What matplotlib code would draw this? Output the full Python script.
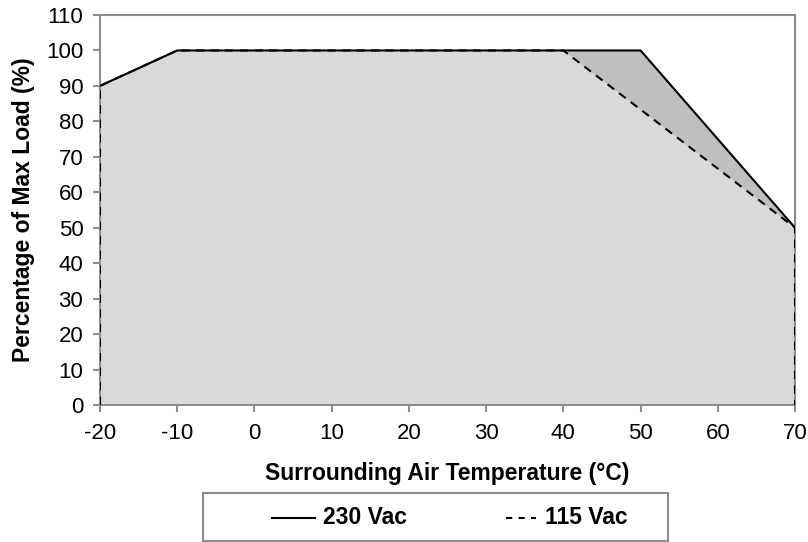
import matplotlib.pyplot as plt
from matplotlib.lines import Line2D
from matplotlib.patches import Rectangle

plt.rcParams['font.family'] = ['Liberation Sans', 'DejaVu Sans']
plt.rcParams['axes.unicode_minus'] = False

# derating curves
temp_230 = [-20, -20, -10, 50, 70, 70]
load_230 = [0, 90, 100, 100, 50, 0]
temp_115 = [-20, -20, -10, 40, 70, 70]
load_115 = [0, 90, 100, 100, 50, 0]
series_names = ['230 Vac', '115 Vac']

xticks = list(range(-20, 71, 10))
yticks = list(range(0, 111, 10))

W, H = 808, 542
fx = lambda px: px / W
fy = lambda py: 1 - py / H

fig = plt.figure(figsize=(W / 100, H / 100), dpi=100)
ax = fig.add_axes([fx(100), fy(405), 695 / W, 390 / H])

# fills: darker band between the curves, light gray under 115 Vac
ax.fill(temp_230, load_230, color='#bfbfbf', lw=0, zorder=1)
ax.fill(temp_115, load_115, color='#d9d9d9', lw=0, zorder=2)

dash = (0, (4, 3))
ax.plot(temp_230[1:-1], load_230[1:-1], color='black', lw=1.5, zorder=3)
ax.plot(temp_115, load_115, color='black', lw=1.5, ls=dash, zorder=4)

ax.set_xlim(-20, 70)
ax.set_ylim(0, 110)
ax.set_xticks(xticks)
ax.set_yticks(yticks)
ax.tick_params(direction='out', length=5, width=1.5, color='#8c8c8c', labelsize=16)
ax.tick_params(axis='x', pad=8)
ax.tick_params(axis='y', pad=7)
for s in ax.spines.values():
    s.set_color('#8c8c8c')
    s.set_linewidth(1.5)

ax.set_xlabel('Surrounding Air Temperature (°C)', fontsize=16.5, fontweight='bold', labelpad=13)
ax.set_ylabel('Percentage of Max Load (%)', fontsize=16.5, fontweight='bold', labelpad=8)

# legend box drawn by hand (Excel style)
fig.add_artist(Rectangle((fx(203), fy(541)), (668 - 203) / W, 48 / H,
                         transform=fig.transFigure, fill=False,
                         edgecolor='#8c8c8c', lw=1.5))
fig.add_artist(Line2D([fx(272), fx(315)], [fy(518), fy(518)],
                      transform=fig.transFigure, color='black', lw=1.5))
fig.add_artist(Line2D([fx(506), fx(536)], [fy(518), fy(518)],
                      transform=fig.transFigure, color='black', lw=1.5, ls=(0, (3, 3))))
fig.text(fx(323), fy(518), series_names[0], fontsize=16.5, fontweight='bold', va='center')
fig.text(fx(545), fy(518), series_names[1], fontsize=16.5, fontweight='bold', va='center')

fig.savefig('out.png', dpi=100)
